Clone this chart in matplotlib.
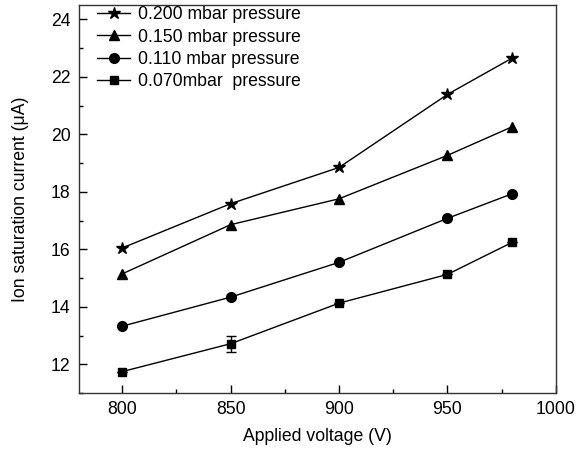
import numpy as np
import matplotlib.pyplot as plt
from matplotlib.ticker import MultipleLocator

plt.rcParams['font.family'] = ['Liberation Sans', 'DejaVu Sans']

voltage = [800, 850, 900, 950, 980]

i_200 = [16.05, 17.59, 18.85, 21.39, 22.66]
i_150 = [15.15, 16.86, 17.76, 19.27, 20.27]
i_110 = [13.33, 14.34, 15.55, 17.08, 17.94]
i_070 = [11.75, 12.72, 14.13, 15.13, 16.25]
err_070 = [0, 0.28, 0, 0, 0]

labels = ["0.200 mbar pressure", "0.150 mbar pressure",
          "0.110 mbar pressure", "0.070mbar  pressure"]

fs = 12.7


def main():
    fig = plt.figure(figsize=(5.76, 4.54), dpi=100)
    ax = fig.add_axes([0.137, 0.134, 0.828, 0.855])

    ax.plot(voltage, i_200, "-*", c="k", lw=1, ms=9, label=labels[0])
    ax.plot(voltage, i_150, "-^", c="k", lw=1, ms=7, label=labels[1])
    ax.plot(voltage, i_110, "-o", c="k", lw=1, ms=7, label=labels[2])
    ax.plot(voltage, i_070, "-s", c="k", lw=1, ms=6, label=labels[3])
    ax.errorbar(voltage, i_070, yerr=err_070, fmt="none", ecolor="k",
                capsize=3.5, elinewidth=1, capthick=1)

    ax.set_xlim(780, 1000)
    ax.set_ylim(11, 24.5)
    ax.xaxis.set_major_locator(MultipleLocator(50))
    ax.xaxis.set_minor_locator(MultipleLocator(25))
    ax.yaxis.set_major_locator(MultipleLocator(2))
    ax.yaxis.set_minor_locator(MultipleLocator(1))
    ax.tick_params(which="both", direction="in", top=False, right=False,
                   labelsize=fs, width=1)
    ax.tick_params(which="major", length=6, pad=6)
    ax.tick_params(which="minor", length=3)
    for s in ax.spines.values():
        s.set_linewidth(1)
        s.set_color("#333333")

    ax.set_xlabel("Applied voltage (V)", fontsize=fs, labelpad=7)
    ax.set_ylabel("Ion saturation current (μA)", fontsize=fs, labelpad=16)

    ax.legend(loc="upper left", frameon=False, fontsize=fs,
              handlelength=1.9, handletextpad=0.45, labelspacing=0.3,
              borderaxespad=0.0, bbox_to_anchor=(0.023, 1.015))

    fig.savefig("out.png", dpi=100)


if __name__ == "__main__": main()
